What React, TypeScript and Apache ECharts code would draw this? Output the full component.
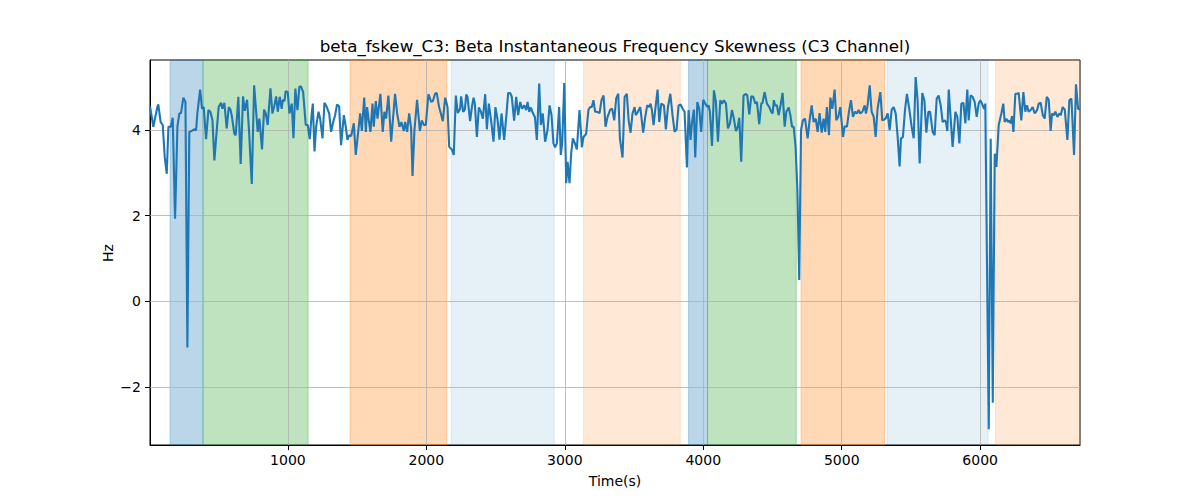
import { useEffect, useRef } from "react";
import * as echarts from "echarts";

// Time (s) of each sample
const times = [
  4, 28, 57, 64, 81, 96, 110, 125, 137, 154, 168, 185, 202, 216, 228, 245, 260, 274, 288, 305,
  322, 337, 346, 366, 380, 392, 409, 426, 440, 455, 469, 486, 500, 517, 527, 541, 558, 573, 585, 594,
  613, 623, 642, 659, 676, 688, 705, 719, 739, 756, 782, 794, 813, 828, 840, 854, 874, 888, 900, 915,
  927, 941, 955, 963, 975, 984, 999, 1011, 1028, 1040, 1054, 1069, 1083, 1095, 1110, 1129, 1143, 1158,
  1172, 1180, 1192, 1204, 1221, 1233, 1250, 1264, 1281, 1298, 1312, 1327, 1341, 1355, 1370, 1384, 1404, 1418,
  1430, 1442, 1457, 1476, 1490, 1505, 1522, 1534, 1551, 1563, 1572, 1582, 1596, 1611, 1620, 1635, 1647, 1668,
  1685, 1697, 1709, 1726, 1746, 1758, 1774, 1789, 1806, 1820, 1837, 1847, 1861, 1876, 1890, 1900, 1914, 1933,
  1953, 1967, 1982, 1996, 2015, 2035, 2047, 2063, 2075, 2092, 2107, 2119, 2136, 2153, 2165, 2184, 2198, 2213,
  2227, 2244, 2251, 2266, 2278,
  2288, 2297, 2316, 2329, 2341, 2350, 2365, 2379, 2394, 2408, 2425, 2437, 2451, 2466, 2485, 2499, 2514, 2528,
  2543, 2562, 2577, 2591, 2605, 2617, 2634, 2649, 2663, 2678, 2692, 2707, 2721, 2731, 2743, 2755, 2769, 2784,
  2798, 2815, 2827, 2841, 2858, 2875, 2890, 2904, 2918, 2930, 2943, 2959, 2971, 2981, 2996, 3010, 3020, 3034,
  3046, 3058, 3073, 3087, 3106, 3116, 3123, 3135, 3154, 3171, 3183, 3195, 3207, 3219, 3231, 3251, 3265, 3280,
  3294, 3309, 3328, 3342, 3357, 3371, 3386, 3398,
  3417, 3432, 3448, 3461, 3475, 3489, 3504, 3513, 3528, 3545, 3566, 3581, 3595, 3610, 3619, 3629, 3641, 3653,
  3670, 3682, 3697, 3716, 3730, 3745, 3762, 3778, 3793, 3807, 3822, 3836, 3851, 3865, 3882, 3894, 3908, 3918,
  3932, 3942, 3957, 3971, 3985, 4000, 4014, 4029, 4038, 4048, 4063, 4077, 4091, 4106, 4123, 4135, 4149, 4164,
  4178, 4193, 4207, 4221, 4236, 4250, 4260, 4274, 4291, 4308, 4318, 4332, 4347, 4361, 4376, 4388, 4404, 4419,
  4428, 4443, 4460, 4477, 4491, 4501, 4510, 4518,
  4532, 4544, 4556, 4573, 4588, 4600, 4617, 4629, 4641, 4653, 4667, 4680, 4693, 4706, 4720, 4735, 4754, 4768,
  4783, 4797, 4812, 4826, 4840, 4855, 4869, 4881, 4893, 4908, 4918, 4932, 4949, 4961, 4975, 4990, 5009, 5021,
  5038, 5052, 5067, 5081, 5096, 5110, 5122, 5134, 5149, 5166, 5175, 5187, 5202, 5216, 5231, 5245, 5259, 5279,
  5293, 5308, 5317, 5332, 5346, 5361, 5375, 5390, 5404, 5418, 5428, 5442, 5457, 5471, 5486, 5505, 5520, 5534,
  5548, 5563, 5582, 5597, 5611, 5626, 5638,
  5657, 5671, 5686, 5700, 5715, 5729, 5744, 5753, 5763, 5773, 5787, 5801, 5821, 5835, 5850, 5864, 5879, 5893,
  5907, 5917, 5931, 5946, 5960, 5975, 5989, 6001, 6013, 6028, 6037, 6062, 6076, 6091, 6105, 6117, 6134, 6153,
  6167, 6177, 6189, 6201, 6211, 6220, 6230, 6240, 6254, 6269, 6278, 6297, 6312, 6326, 6338, 6350, 6365, 6379,
  6394, 6411, 6423, 6437, 6452, 6466, 6481, 6495, 6509, 6519, 6533, 6543, 6558, 6572, 6582, 6596, 6611, 6630,
  6644, 6659, 6678, 6692, 6707, 6721,
];

// beta_fskew_C3 value (Hz) at each sample
const values = [
  4.56, 4.08, 4.54, 4.6, 4.19, 4.12, 3.38, 2.98, 4.08, 4.08, 4.29, 1.93, 4.08, 4.39, 4.4, 4.76, 4.66, -1.08, 3.96, 3.98,
  4.02, 4.0, 4.39, 4.95, 4.5, 4.54, 3.79, 4.47, 4.43, 4.23, 3.29, 4.0, 4.54, 4.64, 4.5, 4.64, 4.04, 4.54, 4.48, 4.35,
  3.92, 3.88, 4.78, 3.21, 4.79, 4.45, 4.71, 4.0, 2.74, 5.05, 3.96, 4.27, 3.55, 4.48, 4.39, 4.12, 4.98, 4.39, 4.54, 4.79,
  4.43, 4.78, 4.5, 4.71, 4.68, 4.91, 4.89, 4.39, 4.62, 3.81, 4.97, 4.47, 5.02, 5.02, 4.89, 4.12, 4.12, 3.79,
  4.39, 4.62, 3.5, 4.08, 4.43, 4.27, 3.81, 4.64, 4.54, 4.39, 3.96, 4.19, 4.35, 4.6, 4.56, 3.65, 4.35, 4.08,
  3.77, 3.88, 3.86, 4.16, 3.42, 3.88, 4.39, 3.98, 4.76, 3.96, 4.54, 4.27, 3.96, 4.62, 4.08, 4.68, 4.27, 4.85,
  3.96, 4.43, 4.27, 4.81, 3.73, 4.23, 4.85, 4.39, 4.08, 4.19, 3.98, 4.19, 3.96, 4.39, 4.04, 2.93, 4.0, 4.71,
  3.98, 4.23, 4.12, 4.12, 4.84, 4.66, 4.68, 4.85, 4.87, 4.54, 4.36, 4.21, 4.76, 4.54, 3.61, 3.55, 3.42, 4.81,
  4.4, 4.5, 4.79, 4.43, 4.48,
  4.83, 4.78, 4.21, 4.54, 4.76, 4.62, 3.84, 4.53, 4.43, 4.27, 4.84, 4.02, 4.62, 4.27, 3.73, 4.54, 4.25, 3.78,
  4.39, 3.77, 4.31, 4.87, 4.87, 4.78, 4.22, 4.78, 4.35, 4.66, 4.5, 4.58, 4.47, 4.66, 4.43, 4.53, 4.4, 4.31,
  3.77, 5.09, 4.12, 4.39, 3.73, 4.0, 4.58, 4.35, 3.69, 3.6, 3.69, 4.54, 3.42, 3.69, 5.1, 2.76, 3.26, 2.76,
  3.46, 3.81, 3.69, 3.55, 4.47, 4.0, 3.6, 3.84, 3.91, 4.48, 4.54, 4.54, 4.7, 4.43, 4.43, 4.4, 4.7, 4.81,
  4.08, 4.31, 4.48, 4.5, 4.23, 4.74, 4.85, 3.81,
  3.36, 4.78, 4.85, 4.23, 3.94, 4.39, 4.54, 4.35, 4.43, 4.54, 3.94, 4.31, 4.58, 4.54, 4.62, 4.47, 4.12, 4.47,
  4.95, 4.19, 4.62, 4.58, 4.02, 4.54, 4.85, 4.35, 3.96, 4.02, 4.58, 4.6, 4.5, 4.43, 3.13, 4.47, 3.77, 4.16,
  4.48, 3.36, 4.66, 4.5, 3.96, 4.71, 4.62, 4.54, 4.58, 4.43, 3.63, 4.93, 4.66, 3.73, 4.7, 4.62, 4.7, 4.62,
  4.04, 4.16, 4.47, 4.27, 3.98, 4.08, 4.29, 3.26, 4.81, 4.85, 4.81, 4.37, 4.79, 4.78, 4.62, 4.66, 4.14, 4.62,
  4.64, 4.89, 4.62, 4.54, 4.43, 4.39, 4.7, 4.58,
  4.58, 4.35, 4.54, 4.87, 4.08, 4.43, 4.53, 4.35, 4.08, 4.08, 3.6, 2.6, 0.5, 4.0, 4.23, 4.27, 3.81, 4.23,
  4.58, 4.19, 4.27, 3.96, 4.4, 3.94, 4.27, 3.96, 4.54, 3.88, 4.76, 4.5, 4.95, 4.23, 4.31, 4.54, 3.84, 4.09,
  4.08, 4.43, 4.7, 4.31, 4.43, 4.39, 4.47, 4.39, 4.43, 4.58, 4.39, 4.58, 5.05, 4.43, 4.31, 3.84, 4.5, 4.89,
  4.23, 4.25, 4.27, 4.39, 4.0, 4.48, 4.54, 4.39, 3.84, 3.15, 3.81, 3.84, 4.47, 4.85, 4.54, 4.08, 3.81, 5.24,
  4.7, 3.22, 4.87, 4.7, 3.94, 4.43, 4.43,
  3.96, 3.88, 4.74, 4.81, 4.58, 4.19, 4.23, 4.19, 3.98, 4.95, 4.27, 3.61, 4.43, 4.31, 3.69, 4.62, 4.64, 4.16,
  4.95, 4.23, 4.81, 4.78, 4.66, 4.31, 4.62, 4.7, 4.62, 4.5, 4.62, -2.99, 3.8, -2.37, 3.45, 3.14, 4.12, 4.39,
  4.62, 4.19, 4.27, 4.19, 4.23, 4.16, 4.33, 3.96, 4.85, 4.85, 4.87, 4.23, 4.89, 4.43, 4.58, 4.43, 4.47, 4.54,
  4.39, 4.47, 4.62, 4.64, 4.35, 4.27, 4.78, 4.71, 3.98, 4.39, 4.35, 4.43, 4.31, 4.39, 4.35, 4.54, 4.48, 3.77,
  4.7, 4.74, 3.42, 5.07, 4.5, 4.48,
];

// Shaded intervals (s)
const bandStart = [149, 387, 1449, 2179, 3135, 3894, 4031, 4706, 5327, 6110];
const bandEnd = [387, 1146, 2148, 2924, 3834, 4031, 4672, 5310, 6057, 6721];
const bandKind = ["blue", "green", "orange", "paleBlue", "paleOrange", "blue", "green", "orange", "paleBlue", "paleOrange"];

const xTicks = [1000, 2000, 3000, 4000, 5000, 6000];
const yTicks = [-2, 0, 2, 4];
const yMin = -3.36;
const yMax = 5.64;

const TITLE = "beta_fskew_C3: Beta Instantaneous Frequency Skewness (C3 Channel)";
const X_NAME = "Time(s)";
const Y_NAME = "Hz";

const FONT = "DejaVu Sans";
const kindColor: Record<string, string> = {
  blue: "rgba(31,119,180,0.3)",
  green: "rgba(44,160,44,0.3)",
  orange: "rgba(255,127,14,0.3)",
  paleBlue: "rgba(31,119,180,0.11)",
  paleOrange: "rgba(255,127,14,0.17)",
};

const fmtY = (v: number) => (v < 0 ? "\u2212" + Math.abs(v) : String(v));
const fmtX = (v: number) => String(v);

export default function App() {
  const ref = useRef<HTMLDivElement | null>(null);

  useEffect(() => {
    document.body.style.margin = "0";
    if (!ref.current) return;
    const chart = echarts.init(ref.current, undefined, { renderer: "svg" });
    const lineData = times.map((t, i) => [t, values[i]]);
    const areas = bandStart.map((s, i) => [
      {
        xAxis: s,
        itemStyle: { color: kindColor[bandKind[i]], borderColor: kindColor[bandKind[i]], borderWidth: 1 },
      },
      { xAxis: bandEnd[i] },
    ]);
    const gridLines = [
      ...xTicks.map((v) => ({ xAxis: v })),
      ...yTicks.map((v) => ({ yAxis: v })),
    ];
    chart.setOption({
      animation: false,
      grid: {
        left: 150,
        right: 120,
        top: 60,
        bottom: 55,
        show: true,
        borderColor: "#000",
        borderWidth: 1,
        backgroundColor: "transparent",
        outerBoundsMode: "none",
      },
      xAxis: {
        type: "value",
        min: times[0],
        max: times[times.length - 1],
        splitLine: { show: false },
        axisLine: { show: true, onZero: false, lineStyle: { color: "#000", width: 1 } },
        axisTick: { show: true, length: 5, customValues: xTicks, lineStyle: { color: "#000", width: 1 } },
        axisLabel: { customValues: xTicks, color: "#000", fontSize: 14, fontFamily: FONT, margin: 8, formatter: fmtX },
      },
      yAxis: {
        type: "value",
        min: yMin,
        max: yMax,
        splitLine: { show: false },
        axisLine: { show: true, onZero: false, lineStyle: { color: "#000", width: 1 } },
        axisTick: { show: true, length: 5, customValues: yTicks, lineStyle: { color: "#000", width: 1 } },
        axisLabel: {
          customValues: yTicks,
          color: "#000",
          fontSize: 14,
          fontFamily: FONT,
          margin: 9,
          formatter: fmtY,
        },
      },
      graphic: [
        {
          type: "text",
          x: 615,
          y: 46,
          style: { text: TITLE, fill: "#000", fontSize: 16.7, fontFamily: FONT, align: "center", verticalAlign: "middle" },
        },
        {
          type: "text",
          x: 615,
          y: 481,
          style: { text: X_NAME, fill: "#000", fontSize: 14, fontFamily: FONT, align: "center", verticalAlign: "middle" },
        },
        {
          type: "text",
          x: 108,
          y: 253,
          rotation: Math.PI / 2,
          style: { text: Y_NAME, fill: "#000", fontSize: 14, fontFamily: FONT, align: "center", verticalAlign: "middle" },
        },
      ],
      series: [
        {
          type: "line",
          data: [],
          silent: true,
          markArea: { silent: true, z: 1, data: areas },
          markLine: {
            silent: true,
            z: 2,
            symbol: ["none", "none"],
            label: { show: false },
            lineStyle: { color: "#b0b0b0", width: 0.8, type: "solid" },
            emphasis: { disabled: true },
            data: gridLines,
          },
        },
        {
          type: "line",
          data: lineData,
          z: 10,
          symbol: "none",
          showSymbol: false,
          silent: true,
          lineStyle: { color: "#1f77b4", width: 2.1 },
        },
      ],
    });
    return () => chart.dispose();
  }, []);

  return <div ref={ref} style={{ width: 1200, height: 500 }} />;
}
